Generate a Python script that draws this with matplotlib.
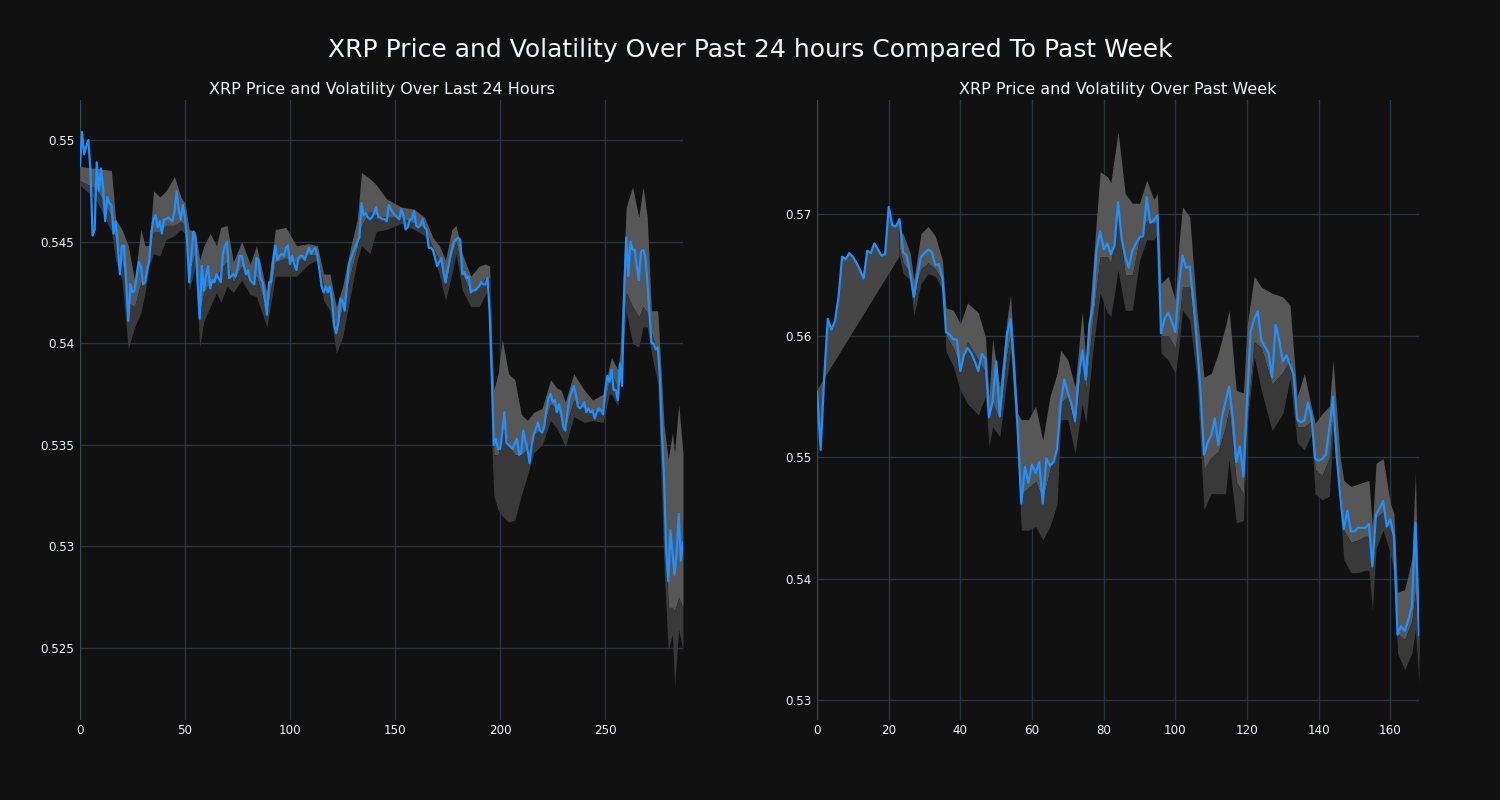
import matplotlib
matplotlib.use("Agg")
import matplotlib.pyplot as plt
import numpy as np

plt.rcParams['font.family'] = ['DejaVu Sans']

# ---- 24 hour data (5 minute steps) ----
day_price = [
    0.5487, 0.5504, 0.5493, 0.5497, 0.5500, 0.5485, 0.5453, 0.5456, 0.5489, 0.5475,
    0.5486, 0.5477, 0.5460, 0.5472, 0.5469, 0.5468, 0.5454, 0.5460, 0.5448, 0.5434,
    0.5448, 0.5448, 0.5430, 0.5411, 0.5429, 0.5425, 0.5426, 0.5433, 0.5440, 0.5438,
    0.5429, 0.5430, 0.5436, 0.5441, 0.5455, 0.5461, 0.5463, 0.5457, 0.5460, 0.5454,
    0.5461, 0.5461, 0.5462, 0.5461, 0.5460, 0.5465, 0.5475, 0.5466, 0.5461, 0.5468,
    0.5462, 0.5450, 0.5430, 0.5443, 0.5455, 0.5452, 0.5430, 0.5412, 0.5438, 0.5426,
    0.5433, 0.5438, 0.5427, 0.5431, 0.5430, 0.5434, 0.5432, 0.5430, 0.5444, 0.5448,
    0.5450, 0.5432, 0.5433, 0.5434, 0.5433, 0.5437, 0.5443, 0.5443, 0.5438, 0.5434,
    0.5436, 0.5431, 0.5430, 0.5429, 0.5442, 0.5441, 0.5432, 0.5430, 0.5422, 0.5414,
    0.5430, 0.5430, 0.5441, 0.5448, 0.5441, 0.5443, 0.5444, 0.5443, 0.5447, 0.5448,
    0.5439, 0.5443, 0.5439, 0.5436, 0.5442, 0.5443, 0.5443, 0.5441, 0.5444, 0.5447,
    0.5444, 0.5446, 0.5447, 0.5443, 0.5436, 0.5428, 0.5425, 0.5428, 0.5425, 0.5428,
    0.5421, 0.5409, 0.5405, 0.5410, 0.5422, 0.5421, 0.5416, 0.5428, 0.5439, 0.5442,
    0.5445, 0.5447, 0.5450, 0.5452, 0.5469, 0.5463, 0.5464, 0.5462, 0.5461, 0.5462,
    0.5464, 0.5467, 0.5462, 0.5462, 0.5461, 0.5461, 0.5460, 0.5468, 0.5466, 0.5464,
    0.5463, 0.5462, 0.5461, 0.5466, 0.5463, 0.5456, 0.5457, 0.5461, 0.5461, 0.5465,
    0.5458, 0.5457, 0.5458, 0.5461, 0.5457, 0.5456, 0.5447, 0.5447, 0.5446, 0.5442,
    0.5438, 0.5440, 0.5442, 0.5435, 0.5430, 0.5436, 0.5441, 0.5446, 0.5450, 0.5451,
    0.5452, 0.5451, 0.5434, 0.5435, 0.5432, 0.5433, 0.5425, 0.5426, 0.5426, 0.5427,
    0.5428, 0.5430, 0.5429, 0.5429, 0.5432, 0.5415, 0.5384, 0.5350, 0.5353, 0.5348,
    0.5348, 0.5356, 0.5366, 0.5351, 0.5350, 0.5349, 0.5348, 0.5351, 0.5353, 0.5345,
    0.5346, 0.5357, 0.5352, 0.5348, 0.5341, 0.5350, 0.5355, 0.5358, 0.5361, 0.5357,
    0.5356, 0.5359, 0.5367, 0.5373, 0.5375, 0.5371, 0.5372, 0.5366, 0.5370, 0.5366,
    0.5359, 0.5357, 0.5366, 0.5373, 0.5376, 0.5379, 0.5375, 0.5369, 0.5368, 0.5369,
    0.5371, 0.5366, 0.5368, 0.5366, 0.5367, 0.5363, 0.5366, 0.5368, 0.5367, 0.5365,
    0.5377, 0.5384, 0.5381, 0.5387, 0.5377, 0.5377, 0.5372, 0.5390, 0.5379, 0.5425,
    0.5452, 0.5433, 0.5450, 0.5446, 0.5446, 0.5438, 0.5431, 0.5445, 0.5446, 0.5443,
    0.5431, 0.5416, 0.5400, 0.5400, 0.5397, 0.5398, 0.5384, 0.5355, 0.5334, 0.5298,
    0.5283, 0.5308, 0.5297, 0.5286, 0.5297, 0.5316, 0.5293, 0.5302,
]

day_band_x = [
    0, 8, 15, 17, 20, 23, 26, 29, 31, 33,
    35, 38, 41, 45, 48, 50, 52, 55, 57, 59,
    62, 65, 67, 70, 73, 77, 81, 84, 89, 93,
    98, 103, 109, 113, 116, 119, 122, 125, 129, 132,
    134, 138, 141, 146, 153, 159, 164, 168, 171, 174,
    177, 179, 182, 186, 190, 193, 195, 196, 197, 199,
    201, 204, 207, 210, 213, 216, 220, 224, 227, 229,
    231, 235, 240, 244, 249, 252, 253, 256, 257, 260,
    263, 266, 268, 270, 272, 275, 278, 280, 282, 283,
    285, 287,
]
day_band_upper = [
    .5487, .5486, .5485, .5461, .5456, .5448, .5431, .5456, .5448, .5448,
    .5475, .5472, .5475, .5482, .5472, .5469, .5456, .5455, .5441, .5448,
    .5454, .5448, .5457, .5458, .5440, .5450, .5439, .5448, .5425, .5456,
    .5457, .5448, .5449, .5448, .5434, .5434, .5418, .5428, .5448, .5461,
    .5484, .5481, .5478, .5471, .5467, .5466, .5462, .5452, .5448, .5441,
    .5456, .5458, .5444, .5433, .5438, .5439, .5438, .5400, .5377, .5385,
    .5402, .5385, .5382, .5365, .5362, .5366, .5368, .5382, .5378, .5377,
    .5371, .5385, .5377, .5372, .5375, .5389, .5393, .5387, .5395, .5467,
    .5477, .5462, .5477, .5462, .5416, .5416, .5360, .5343, .5356, .5346,
    .5370, .5346,
]
day_band_mid = [
    .5480, .5476, .5462, .5450, .5440, .5420, .5418, .5430, .5432, .5442,
    .5455, .5455, .5458, .5458, .5460, .5458, .5435, .5445, .5415, .5425,
    .5430, .5432, .5437, .5440, .5430, .5438, .5430, .5433, .5415, .5440,
    .5442, .5440, .5444, .5443, .5428, .5426, .5405, .5418, .5435, .5447,
    .5458, .5465, .5463, .5462, .5462, .5459, .5457, .5447, .5441, .5428,
    .5444, .5450, .5434, .5425, .5428, .5432, .5432, .5370, .5345, .5345,
    .5360, .5350, .5345, .5345, .5348, .5355, .5358, .5370, .5368, .5362,
    .5358, .5372, .5368, .5367, .5366, .5382, .5385, .5378, .5385, .5425,
    .5418, .5413, .5418, .5415, .5405, .5395, .5320, .5270, .5270, .5268,
    .5275, .5270,
]
day_band_lower = [
    .5478, .5470, .5455, .5441, .5431, .5397, .5408, .5415, .5425, .5438,
    .5444, .5443, .5451, .5453, .5456, .5454, .5426, .5438, .5398, .5411,
    .5418, .5425, .5420, .5428, .5425, .5431, .5424, .5423, .5408, .5433,
    .5433, .5433, .5439, .5441, .5421, .5416, .5395, .5403, .5425, .5441,
    .5448, .5444, .5455, .5456, .5459, .5456, .5453, .5444, .5434, .5421,
    .5434, .5444, .5426, .5418, .5418, .5424, .5428, .5350, .5325, .5318,
    .5315, .5312, .5313, .5325, .5335, .5346, .5350, .5362, .5358, .5354,
    .5349, .5364, .5361, .5362, .5361, .5375, .5375, .5369, .5379, .5416,
    .5400, .5398, .5408, .5408, .5395, .5380, .5290, .5249, .5257, .5231,
    .5259, .5249,
]

# ---- week data (hourly) ----
week_price = [
    0.5554, 0.5506, 0.5566, 0.5614, 0.5605, 0.5612, 0.5632, 0.5665, 0.5663, 0.5668,
    0.5665, 0.5660, 0.5654, 0.5647, 0.5670, 0.5668, 0.5676, 0.5671, 0.5666, 0.5667,
    0.5706, 0.5691, 0.5690, 0.5696, 0.5669, 0.5666, 0.5651, 0.5632, 0.5649, 0.5665,
    0.5668, 0.5671, 0.5669, 0.5658, 0.5659, 0.5647, 0.5603, 0.5601, 0.5597, 0.5597,
    0.5571, 0.5584, 0.5590, 0.5586, 0.5579, 0.5571, 0.5585, 0.5581, 0.5533, 0.5546,
    0.5579, 0.5534, 0.5568, 0.5601, 0.5614, 0.5572, 0.5523, 0.5462, 0.5492, 0.5479,
    0.5494, 0.5487, 0.5496, 0.5462, 0.5499, 0.5493, 0.5496, 0.5507, 0.5544, 0.5564,
    0.5553, 0.5544, 0.5530, 0.5566, 0.5588, 0.5564, 0.5609, 0.5625, 0.5671, 0.5686,
    0.5671, 0.5676, 0.5667, 0.5674, 0.5710, 0.5680, 0.5665, 0.5656, 0.5670, 0.5676,
    0.5681, 0.5682, 0.5714, 0.5693, 0.5695, 0.5699, 0.5602, 0.5614, 0.5619, 0.5612,
    0.5603, 0.5642, 0.5666, 0.5656, 0.5657, 0.5629, 0.5595, 0.5555, 0.5502, 0.5512,
    0.5518, 0.5532, 0.5510, 0.5533, 0.5546, 0.5558, 0.5533, 0.5496, 0.5509, 0.5484,
    0.5547, 0.5603, 0.5614, 0.5620, 0.5596, 0.5591, 0.5586, 0.5566, 0.5609, 0.5596,
    0.5579, 0.5584, 0.5576, 0.5568, 0.5531, 0.5529, 0.5530, 0.5545, 0.5533, 0.5499,
    0.5497, 0.5499, 0.5502, 0.5524, 0.5550, 0.5502, 0.5469, 0.5441, 0.5456, 0.5439,
    0.5439, 0.5442, 0.5442, 0.5442, 0.5445, 0.5410, 0.5453, 0.5458, 0.5464, 0.5443,
    0.5449, 0.5435, 0.5354, 0.5361, 0.5357, 0.5366, 0.5377, 0.5446, 0.5354,
]

week_band_x = [
    0, 23, 24, 26, 27, 28, 29, 31, 33, 35,
    36, 38, 40, 42, 45, 47, 48, 49, 51, 53,
    54, 56, 57, 59, 61, 63, 65, 67, 68, 70,
    72, 74, 75, 77, 79, 81, 82, 84, 86, 88,
    90, 92, 94, 95, 96, 98, 100, 101, 102, 104,
    106, 108, 110, 112, 114, 115, 117, 119, 120, 122,
    124, 127, 130, 132, 134, 136, 138, 139, 141, 143,
    144, 146, 147, 149, 151, 153, 154, 155, 156, 158,
    160, 161, 162, 164, 166, 167, 168,
]
week_band_upper = [
    .5555, .5686, .5684, .5668, .5646, .5665, .5684, .5690, .5682, .5662,
    .5623, .5621, .5610, .5627, .5619, .5599, .5550, .5597, .5558, .5613,
    .5634, .5536, .5531, .5531, .5542, .5514, .5550, .5569, .5588, .5580,
    .5558, .5620, .5580, .5657, .5735, .5731, .5726, .5768, .5717, .5709,
    .5709, .5728, .5712, .5717, .5643, .5649, .5629, .5676, .5706, .5698,
    .5621, .5566, .5569, .5586, .5608, .5621, .5555, .5553, .5608, .5649,
    .5640, .5635, .5632, .5625, .5550, .5569, .5541, .5528, .5536, .5542,
    .5580, .5500, .5481, .5476, .5478, .5480, .5481, .5443, .5495, .5499,
    .5462, .5454, .5389, .5391, .5416, .5487, .5355,
]
week_band_mid = [
    .5555, .5672, .5660, .5652, .5625, .5645, .5655, .5660, .5655, .5645,
    .5600, .5590, .5575, .5595, .5580, .5570, .5530, .5545, .5530, .5585,
    .5600, .5515, .5470, .5475, .5480, .5465, .5490, .5510, .5545, .5550,
    .5525, .5585, .5555, .5615, .5665, .5665, .5660, .5700, .5650, .5650,
    .5680, .5695, .5692, .5695, .5600, .5600, .5590, .5610, .5640, .5640,
    .5590, .5490, .5500, .5505, .5525, .5540, .5480, .5470, .5530, .5595,
    .5590, .5560, .5570, .5580, .5525, .5525, .5530, .5490, .5485, .5500,
    .5535, .5475, .5440, .5430, .5432, .5435, .5435, .5405, .5450, .5455,
    .5440, .5430, .5355, .5350, .5365, .5390, .5330,
]
week_band_lower = [
    .5555, .5665, .5651, .5646, .5616, .5630, .5643, .5651, .5649, .5638,
    .5587, .5575, .5555, .5544, .5535, .5550, .5509, .5525, .5517, .5564,
    .5588, .5503, .5440, .5440, .5443, .5432, .5443, .5462, .5531, .5531,
    .5503, .5544, .5528, .5588, .5635, .5619, .5616, .5654, .5621, .5621,
    .5662, .5679, .5679, .5684, .5586, .5580, .5569, .5591, .5621, .5613,
    .5566, .5457, .5470, .5470, .5470, .5498, .5446, .5448, .5525, .5583,
    .5555, .5522, .5536, .5565, .5512, .5506, .5519, .5470, .5465, .5468,
    .5523, .5459, .5416, .5405, .5405, .5407, .5407, .5374, .5425, .5440,
    .5421, .5405, .5339, .5325, .5339, .5358, .5314,
]

day_yticks = [0.525, 0.53, 0.535, 0.54, 0.545, 0.55]
week_yticks = [0.53, 0.54, 0.55, 0.56, 0.57]

BG = '#111111'
GRID = '#283442'
TEXT = '#f2f5fa'
LINE = '#1e90ff'
LIGHT = '#575757'
DARK = '#393939'


def style_axes(ax, title, xticks, yticks, xlim, ylim):
    ax.set_facecolor(BG)
    for s in ax.spines.values():
        s.set_visible(False)
    ax.set_xlim(*xlim)
    ax.set_ylim(*ylim)
    ax.set_xticks(xticks)
    ax.set_yticks(yticks)
    ax.set_yticklabels([f"{t:g}" for t in yticks])
    ax.grid(True, color=GRID, linewidth=1)
    ax.set_axisbelow(True)
    ax.axvline(0, color='#3a4758', linewidth=1.5, zorder=1)
    ax.tick_params(length=0, colors=TEXT, labelsize=8.6)
    ax.tick_params(axis='y', pad=4)
    ax.tick_params(axis='x', pad=3)
    ax.set_title(title, color=TEXT, fontsize=11.5, pad=4)


def draw_band(ax, bx, upper, mid, lower, start=0):
    ax.fill_between(bx[start:], mid[start:], upper[start:], color=LIGHT, linewidth=0, zorder=2)
    ax.fill_between(bx[start:], lower[start:], mid[start:], color=DARK, linewidth=0, zorder=2)


fig = plt.figure(figsize=(15, 8), dpi=100)
fig.patch.set_facecolor(BG)

# left: last 24 hours
ax1 = fig.add_axes([0.0533, 0.10, 0.402, 0.775])
day_x = np.arange(len(day_price))
draw_band(ax1, day_band_x, day_band_upper, day_band_mid, day_band_lower)
ax1.plot(day_x, day_price, color=LINE, linewidth=1.6, zorder=3)
style_axes(ax1, 'XRP Price and Volatility Over Last 24 Hours',
           [0, 50, 100, 150, 200, 250], day_yticks, (0, 287), (0.52146, 0.55197))

# right: past week
ax2 = fig.add_axes([0.5447, 0.10, 0.4013, 0.775])
week_x = np.arange(len(week_price))
draw_band(ax2, week_band_x, week_band_upper, week_band_mid, week_band_lower, start=1)
# warm-up region: band edge joins the first band value straight to the next one
n0 = week_band_x[1]
wedge_x = list(week_x[:n0 + 1]) + [week_band_x[1], week_band_x[0]]
wedge_y = list(week_price[:n0 + 1]) + [week_band_lower[1], week_band_lower[0]]
ax2.fill(wedge_x, wedge_y, color='#464646', linewidth=0, zorder=2)
ax2.plot(week_x, week_price, color=LINE, linewidth=1.6, zorder=3)
style_axes(ax2, 'XRP Price and Volatility Over Past Week',
           [0, 20, 40, 60, 80, 100, 120, 140, 160], week_yticks, (0, 168), (0.52838, 0.5794))

fig.suptitle('XRP Price and Volatility Over Past 24 hours Compared To Past Week',
             color=TEXT, fontsize=18, y=0.952)

fig.savefig('out.png', dpi=100, facecolor=BG)
